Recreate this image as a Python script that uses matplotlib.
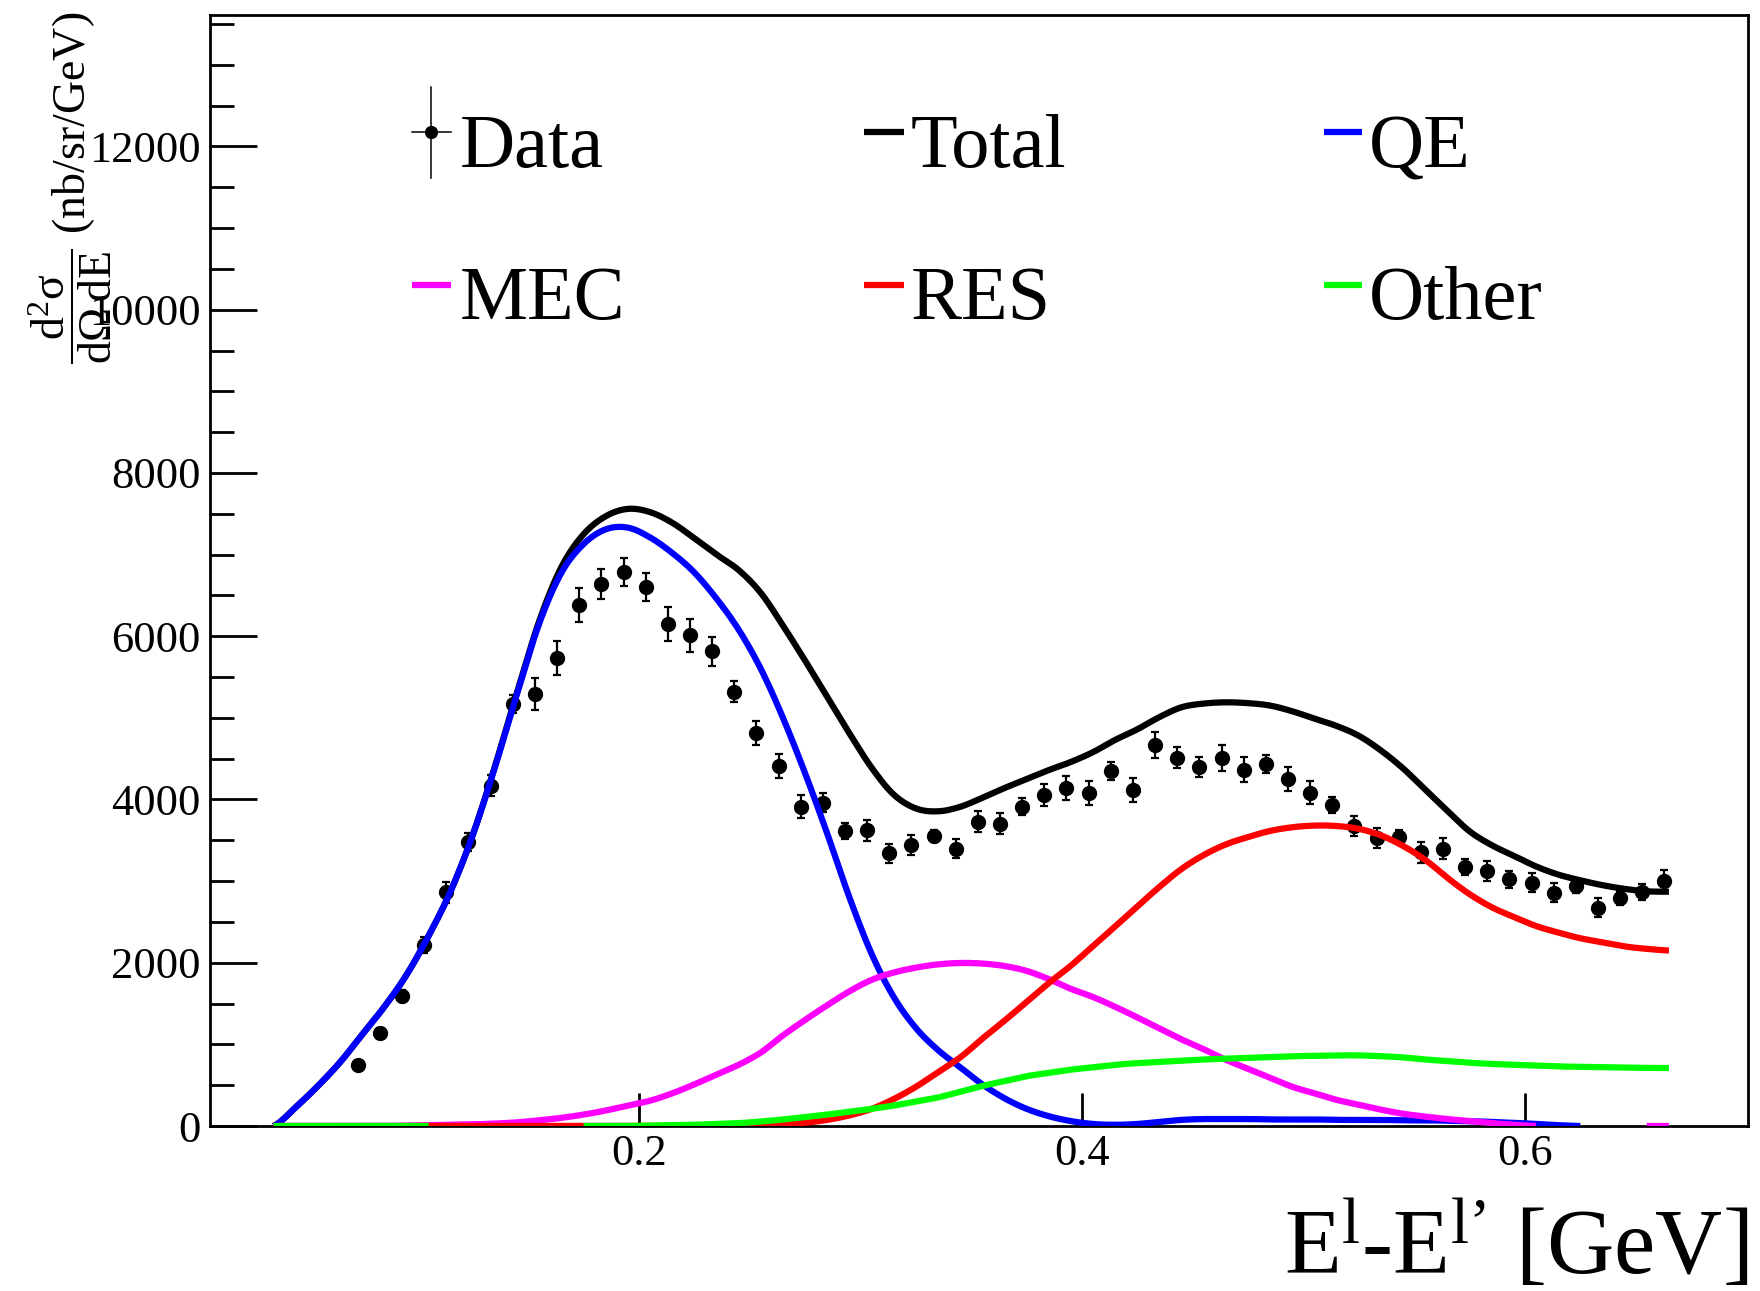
import numpy as np
import matplotlib
matplotlib.use("Agg")
import matplotlib.pyplot as plt
from matplotlib.ticker import MultipleLocator, FixedLocator, NullLocator

plt.rcParams['font.family'] = ['Liberation Serif', 'DejaVu Serif']
plt.rcParams['mathtext.fontset'] = 'custom'
plt.rcParams['mathtext.rm'] = 'Liberation Serif'
plt.rcParams['mathtext.it'] = 'Liberation Serif:italic'
plt.rcParams['mathtext.bf'] = 'Liberation Serif:bold'

# ---------------- data ----------------
data_x = [0.073, 0.083, 0.093, 0.103, 0.113, 0.123, 0.133, 0.143, 0.153, 0.163,
          0.173, 0.183, 0.193, 0.203, 0.213, 0.223, 0.233, 0.243, 0.253, 0.263,
          0.273, 0.283, 0.293, 0.303, 0.313, 0.323, 0.333, 0.343, 0.353, 0.363,
          0.373, 0.383, 0.393, 0.403, 0.413, 0.423, 0.433, 0.443, 0.453, 0.463,
          0.473, 0.483, 0.493, 0.503, 0.513, 0.523, 0.533, 0.543, 0.553, 0.563,
          0.573, 0.583, 0.593, 0.603, 0.613, 0.623, 0.633, 0.643, 0.653, 0.663]
data_y = [748, 1144, 1597, 2218, 2864, 3480, 4171, 5168, 5298, 5731,
          6385, 6638, 6785, 6600, 6152, 6009, 5813, 5319, 4812, 4404,
          3913, 3962, 3611, 3624, 3342, 3440, 3550, 3398, 3729, 3705,
          3913, 4053, 4138, 4077, 4347, 4114, 4669, 4510, 4400, 4510,
          4367, 4436, 4249, 4085, 3934, 3676, 3533, 3538, 3354, 3398,
          3174, 3121, 3020, 2982, 2855, 2941, 2675, 2790, 2871, 3002]
data_err = [50, 60, 75, 100, 130, 110, 125, 112, 196, 205,
            208, 184, 168, 170, 206, 202, 173, 127, 145, 147,
            139, 116, 96, 127, 116, 120, 75, 116, 133, 131,
            106, 131, 147, 145, 108, 145, 159, 129, 125, 161,
            157, 108, 147, 141, 102, 123, 123, 85, 131, 129,
            98, 123, 104, 112, 116, 85, 116, 85, 98, 129]

# model curves, sampled at bin centres (nan = point not drawn)
model_x = [0.035, 0.045, 0.055, 0.065, 0.075, 0.085, 0.095, 0.105, 0.115, 0.125,
           0.135, 0.145, 0.155, 0.165, 0.175, 0.185, 0.195, 0.205, 0.215, 0.225,
           0.235, 0.245, 0.255, 0.265, 0.275, 0.285, 0.295, 0.305, 0.315, 0.325,
           0.335, 0.345, 0.355, 0.365, 0.375, 0.385, 0.395, 0.405, 0.415, 0.425,
           0.435, 0.445, 0.455, 0.465, 0.475, 0.485, 0.495, 0.505, 0.515, 0.525,
           0.535, 0.545, 0.555, 0.565, 0.575, 0.585, 0.595, 0.605, 0.615, 0.625,
           0.635, 0.645, 0.655, 0.665]
nan = np.nan
total = [0, 230, 490, 780, 1120, 1460, 1850, 2330, 2880, 3570,
         4410, 5320, 6190, 6850, 7250, 7470, 7560, 7520, 7390, 7200,
         7000, 6810, 6530, 6130, 5700, 5255, 4810, 4390, 4060, 3890,
         3855, 3910, 4020, 4140, 4250, 4360, 4460, 4580, 4730, 4860,
         5010, 5130, 5175, 5190, 5180, 5150, 5080, 4990, 4900, 4780,
         4600, 4380, 4120, 3860, 3610, 3440, 3310, 3180, 3080, 3010,
         2950, 2905, 2875, 2870]
qe = [0, 230, 490, 780, 1120, 1460, 1850, 2330, 2880, 3570,
      4400, 5300, 6160, 6780, 7130, 7310, 7330, 7210, 7020, 6780,
      6460, 6080, 5600, 5000, 4320, 3580, 2800, 2110, 1580, 1200,
      930, 720, 510, 340, 210, 120, 60, 25, 15, 25,
      50, 75, 85, 85, 85, 80, 80, 80, 75, 75,
      75, 70, 70, 65, 60, 50, 40, 25, 10, 0,
      nan, nan, nan, nan]
mec = [0, 0, 0, 0, 0, 0, 5, 10, 15, 20,
       30, 45, 70, 100, 140, 190, 250, 310, 400, 510,
       630, 750, 900, 1110, 1300, 1480, 1650, 1790, 1880, 1940,
       1980, 1997, 1990, 1960, 1900, 1800, 1680, 1580, 1460, 1330,
       1195, 1060, 940, 810, 700, 590, 480, 400, 320, 260,
       200, 150, 115, 85, 60, 35, 15, 0, nan, nan,
       nan, nan, 0, 0]
res = [0, 0, 0, 0, 0, 0, 0, 0, 0, 0,
       0, 0, 0, 0, 0, 0, 0, 0, 0, 0,
       0, 5, 10, 20, 40, 75, 130, 210, 330, 480,
       660, 840, 1070, 1290, 1520, 1750, 1965, 2205, 2445, 2690,
       2930, 3150, 3320, 3450, 3540, 3615, 3660, 3680, 3675, 3640,
       3560, 3430, 3260, 3040, 2840, 2680, 2560, 2450, 2370, 2300,
       2250, 2200, 2170, 2150]
other = [0, 0, 0, 0, 0, 0, 0, 0, nan, nan,
         nan, nan, nan, nan, 0, 0, 0, 5, 10, 15,
         25, 35, 55, 80, 110, 140, 175, 210, 250, 300,
         350, 420, 490, 550, 610, 650, 690, 720, 750, 770,
         785, 800, 815, 825, 835, 845, 855, 860, 865, 865,
         855, 840, 815, 795, 775, 760, 750, 740, 730, 725,
         720, 715, 712, 710]

x_ticks = [0.2, 0.4, 0.6]
x_tick_labels = ["0.2", "0.4", "0.6"]

series_names = ["Total", "QE", "MEC", "RES", "Other"]
series_colors = ["#000000", "#0000ff", "#ff00ff", "#ff0000", "#00ff00"]
series_values = [total, qe, mec, res, other]


def smooth_runs(xs, ys, sub=12):
    """Catmull-Rom curve through each run of finite points (drawn like a 'C' graph)."""
    xs = np.asarray(xs, float)
    ys = np.asarray(ys, float)
    ok = np.isfinite(ys)
    out_x, out_y = [], []
    i = 0
    n = len(xs)
    while i < n:
        if not ok[i]:
            i += 1
            continue
        j = i
        while j + 1 < n and ok[j + 1]:
            j += 1
        px, py = xs[i:j + 1], ys[i:j + 1]
        m = len(px)
        if m == 1:
            out_x += [px[0], np.nan]
            out_y += [py[0], np.nan]
        else:
            t = np.linspace(0, 1, sub, endpoint=False)
            for k in range(m - 1):
                p0 = py[k - 1] if k > 0 else py[k]
                p1, p2 = py[k], py[k + 1]
                p3 = py[k + 2] if k + 2 < m else py[k + 1]
                seg = 0.5 * ((2 * p1) + (-p0 + p2) * t
                             + (2 * p0 - 5 * p1 + 4 * p2 - p3) * t ** 2
                             + (-p0 + 3 * p1 - 3 * p2 + p3) * t ** 3)
                out_x += list(px[k] + (px[k + 1] - px[k]) * t)
                out_y += list(seg)
            out_x += [px[-1], np.nan]
            out_y += [py[-1], np.nan]
        i = j + 1
    return np.array(out_x), np.array(out_y)


# ---------------- figure ----------------
W, H = 1760, 1291
fig = plt.figure(figsize=(W / 100, H / 100), dpi=100)


def fx(px):
    return px / W


def fy(py):
    return 1 - py / H


ax = fig.add_axes([fx(210), fy(1126), fx(1748) - fx(210), fy(15) - fy(1126)])
ax.set_xlim(0.0063, 0.7007)
ax.set_ylim(0, 13610)

# data points with error bars
ax.errorbar(data_x, data_y, yerr=data_err, fmt='o', color='black',
            markersize=10, elinewidth=1.6, capsize=2.8, capthick=1.6, zorder=2)

# model components
for name, col, vals in zip(series_names, series_colors, series_values):
    sx, sy = smooth_runs(model_x, vals)
    ax.plot(sx, sy, color=col, lw=4.5, solid_capstyle='butt',
            solid_joinstyle='round', zorder=3)

# axes styling
for sp in ax.spines.values():
    sp.set_linewidth(2.0)
ax.xaxis.set_major_locator(FixedLocator(x_ticks))
ax.set_xticklabels(x_tick_labels)
ax.xaxis.set_minor_locator(NullLocator())
ax.yaxis.set_major_locator(MultipleLocator(2000))
ax.yaxis.set_minor_locator(MultipleLocator(500))
ax.tick_params(axis='both', which='both', direction='in', width=2.0,
               labelsize=32, top=False, right=False)
ax.tick_params(axis='y', which='major', length=34, pad=7)
ax.tick_params(axis='y', which='minor', length=17)
ax.tick_params(axis='x', which='major', length=24, pad=6)

# axis titles
fig.text(fx(1748), fy(1274), "E$^{\\mathrm{l}}$-E$^{\\mathrm{l’}}$ [GeV]",
         ha='right', va='baseline', fontsize=67)
fig.text(fx(70), fy(12),
         "$\\dfrac{\\mathrm{d}^{2}\\mathrm{σ}}{\\mathrm{dΩ\\,dE}}$ (nb/sr/GeV)",
         rotation=90, ha='center', va='top', fontsize=33)

# legend
leg_font = 55
# Data entry: marker with error cross
fig.add_artist(plt.Line2D([fx(431), fx(431)], [fy(87), fy(178)], color='black', lw=1.1))
fig.add_artist(plt.Line2D([fx(412), fx(451)], [fy(132), fy(132)], color='black', lw=1.1))
fig.add_artist(plt.Line2D([fx(431)], [fy(132)], marker='o', markersize=8.5,
                          color='black', lw=0))
fig.text(fx(460), fy(167), "Data", fontsize=leg_font, ha='left', va='baseline')

legend_slots = {
    "Total": (864, 904, 132, 911, 167),
    "QE": (1324, 1362, 132, 1369, 167),
    "MEC": (412, 451, 285, 460, 319),
    "RES": (864, 904, 285, 911, 319),
    "Other": (1324, 1362, 285, 1369, 319),
}
for name, col in zip(series_names, series_colors):
    x0, x1, yl, xt, yb = legend_slots[name]
    fig.add_artist(plt.Line2D([fx(x0), fx(x1)], [fy(yl), fy(yl)], color=col,
                              lw=4.5, solid_capstyle='butt'))
    fig.text(fx(xt), fy(yb), name, fontsize=leg_font, ha='left', va='baseline')

fig.savefig("out.png", dpi=100)
